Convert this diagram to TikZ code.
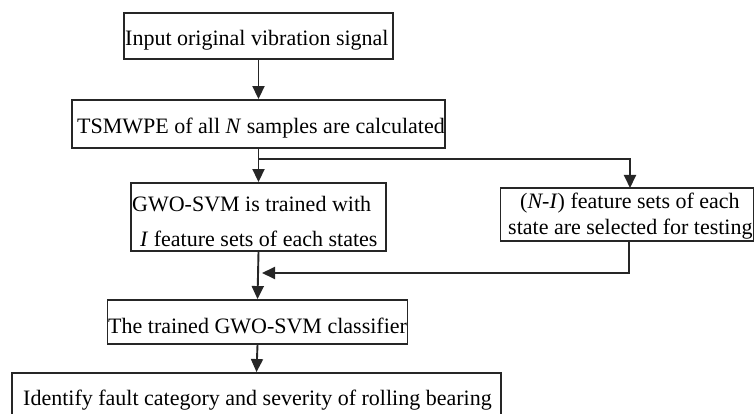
\documentclass[tikz,border=0pt]{standalone}
\usepackage{fontspec}
\setmainfont{Liberation Serif}
\usetikzlibrary{arrows.meta}
\begin{document}
\begin{tikzpicture}[x=1pt,y=-1pt,
  box/.style={draw=black!85, line width=1.9pt, inner sep=0pt, fill=none},
  txt/.style={anchor=base west, inner sep=0pt, font=\fontsize{22}{26}\selectfont},
  flow/.style={draw=black!85, line width=1.9pt, -{Triangle[length=13pt,width=12pt]}}]
\useasboundingbox (0,0) rectangle (755,414);
\clip (0,0) rectangle (755,414);

% process boxes
\node[box, minimum width=269pt, minimum height=46pt] (b1) at (258.5,36) {};
\node[box, minimum width=373pt, minimum height=48pt] (b2) at (258.5,124) {};
\node[box, minimum width=255pt, minimum height=68pt] (b3) at (258.5,217) {};
\node[box, minimum width=253pt, minimum height=53pt] (b4) at (627,214.5) {};
\node[box, minimum width=300pt, minimum height=44pt] (b5) at (257.5,322) {};
\node[box, minimum width=489pt, minimum height=56pt] (b6) at (256.5,401) {};

% box texts
\node[txt] (t1) at (125,46) {Input original vibration signal};
\node[txt] (t2) at (77,134) {TSMWPE of all \textit{N} samples are calculated};
\node[txt] (t3a) at (132,212) {GWO-SVM is trained with};
\node[txt] (t3b) at (140,246.5) {\textit{I} feature sets of each states};
\node[txt] (t4a) at (520,208.3) {(\textit{N-I}) feature sets of each};
\node[txt] (t4b) at (508,234) {state are selected for testing};
\node[txt] (t5) at (108,333) {The trained GWO-SVM classifier};
\node[txt] (t6) at (23,405) {Identify fault category and severity of rolling bearing};

% connectors
\coordinate (split) at (258.5,158.7);
\coordinate (join) at (262,273);
\coordinate (b4in) at (630,188);
\coordinate (b4out) at (629,241);
\draw[flow] (b1.south) -- (b2.north);
\draw[flow] (b2.south) -- (b3.north);
\draw[flow] (split) -| (b4in);
\draw[flow] (b4out) |- (join);
\draw[flow] (b3.south) -- (b5.north);
\draw[flow] (b5.south) -- (b6.north);
\end{tikzpicture}
\end{document}
